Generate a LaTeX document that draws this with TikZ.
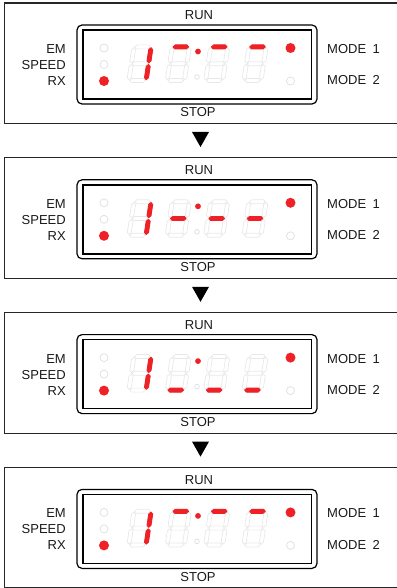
\documentclass[tikz,border=0pt]{standalone}
\usepackage{fontspec}
\setmainfont{Liberation Sans}
\definecolor{ledred}{RGB}{238,34,38}
\definecolor{segoffc}{RGB}{232,232,232}
\definecolor{ledoffc}{RGB}{222,222,222}
\tikzset{
  panelbox/.style={draw=black!85, line width=1.1pt},
  bezel/.style={draw=black, line width=1.2pt, rounded corners=5pt},
  window/.style={draw=black, line width=1.4pt},
  lbl/.style={font=\fontsize{13}{15}\selectfont, inner sep=0pt, text=black!90},
  segon/.style={fill=ledred, draw=ledred, line width=0.9pt, line join=round},
  segoff/.style={draw=segoffc, line width=0.7pt},
  ledon/.style={circle, fill=ledred, inner sep=0pt, minimum size=10pt},
  ledoff/.style={circle, draw=ledoffc, line width=0.7pt, inner sep=0pt, minimum size=8pt},
  colonon/.style={circle, fill=ledred, inner sep=0pt, minimum size=5.8pt},
  colonoff/.style={circle, draw=ledoffc, line width=0.7pt, inner sep=0pt, minimum size=4.6pt},
  downtri/.style={fill=black},
}
% horizontal segment: y, style
\newcommand\hseg[2]{\path[#2] (-7.8,#1) -- (-5.8,#1-2) -- (5.8,#1-2) -- (7.8,#1) -- (5.8,#1+2) -- (-5.8,#1+2) -- cycle;}
% vertical segment: x, upper tip y, lower tip y, style
\newcommand\vseg[4]{\path[#4] (#1,#2) -- (#1+2,#2+2) -- (#1+2,#3-2) -- (#1,#3) -- (#1-2,#3-2) -- (#1-2,#2+2) -- cycle;}
\newcommand\segA[1]{\hseg{-16.8}{#1}}
\newcommand\segG[1]{\hseg{0}{#1}}
\newcommand\segD[1]{\hseg{16.8}{#1}}
\newcommand\segB[1]{\vseg{8.6}{-16}{-0.8}{#1}}
\newcommand\segC[1]{\vseg{8.6}{0.8}{16}{#1}}
\newcommand\segE[1]{\vseg{-8.6}{0.8}{16}{#1}}
\newcommand\segF[1]{\vseg{-8.6}{-16}{-0.8}{#1}}
% digit: cx, cy, lit code
\newcommand\sevdigit[3]{%
  \begin{scope}[shift={(#1,#2)}, xslant=0.15]
    \segA{segoff}\segB{segoff}\segC{segoff}\segD{segoff}\segE{segoff}\segF{segoff}\segG{segoff}
    #3
  \end{scope}}
\begin{document}
\begin{tikzpicture}[x=1pt, y=-1pt]
\useasboundingbox (0,0) rectangle (396,588);
\foreach \i/\T/\S in {1/3/A, 2/157.8/G, 3/312.6/D, 4/467.4/A} {
  \draw[panelbox] (4.5,\T) rectangle (430,\T+120.5);
  \draw[bezel] (77,\T+22) rectangle (317,\T+101);
  \draw[window] (83,\T+27) rectangle (311.5,\T+96);
  \node[lbl] (run\i) at (199,\T+12.5) {RUN};
  \node[lbl] (stop\i) at (198,\T+109.5) {STOP};
  \node[lbl, anchor=east] (em\i) at (66,\T+46) {EM};
  \node[lbl, anchor=east] (speed\i) at (66,\T+62) {SPEED};
  \node[lbl, anchor=east] (rx\i) at (66,\T+78) {RX};
  \node[lbl, anchor=west] (mode1\i) at (327,\T+46) {MODE\hspace{0.5em}1};
  \node[lbl, anchor=west] (mode2\i) at (327,\T+77.5) {MODE\hspace{0.5em}2};
  \node[ledoff] (emled\i) at (104,\T+45) {};
  \node[ledoff] (speedled\i) at (104,\T+61.5) {};
  \node[ledon] (rxled\i) at (104,\T+78) {};
  \node[ledon] (modeoneled\i) at (290.5,\T+45) {};
  \node[ledoff] (modetwoled\i) at (290.5,\T+78) {};
  \node[colonon] (colonup\i) at (198,\T+48.5) {};
  \node[colonoff] (colondown\i) at (197,\T+74) {};
  \sevdigit{140}{\T+60.7}{\segB{segon}\segC{segon}}
  \sevdigit{178.3}{\T+60.7}{\csname seg\S\endcsname{segon}}
  \sevdigit{216.7}{\T+60.7}{\csname seg\S\endcsname{segon}}
  \sevdigit{255}{\T+60.7}{\csname seg\S\endcsname{segon}}
}
\foreach \B in {123.5, 278.3, 433.1} {
  \fill[downtri] (192,\B+8.5) -- (209,\B+8.5) -- (200.5,\B+23.5) -- cycle;
}
\end{tikzpicture}
\end{document}
